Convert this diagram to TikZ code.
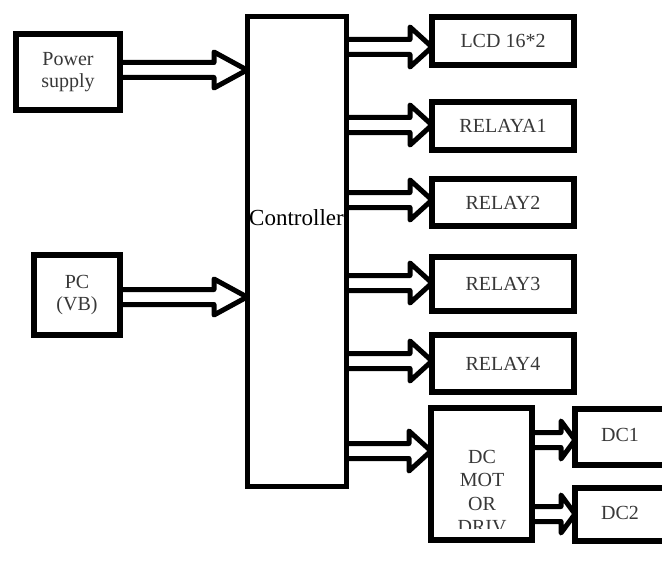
\documentclass[tikz,border=0pt]{standalone}
\usepackage{fontspec}
\setmainfont{Liberation Serif}
\usetikzlibrary{calc}
\newcommand{\blockarr}[5]{%
  \draw[arrline] let \p1=(#1.east), \p2=(#2.west), \p3=(0,#3) in
   (\x1,\y3+7.5pt) -- (\x2-#4pt,\y3+7.5pt) -- (\x2-#4pt,\y3+#5pt) -- (\x2,\y3)
   -- (\x2-#4pt,\y3-#5pt) -- (\x2-#4pt,\y3-7.5pt) -- (\x1,\y3-7.5pt);}
\begin{document}
\begin{tikzpicture}[x=1pt,y=-1pt,
  blk/.style={draw=black,line width=5.5pt,inner sep=0pt,outer sep=0pt,align=center,
    text=black!78,font=\fontsize{20}{22.5}\selectfont},
  lbl/.style={inner sep=0pt,align=center,text=black!78,font=\fontsize{20}{23.5}\selectfont},
  arrline/.style={draw=black,line width=5pt,line join=round}]
\clip (0,0) rectangle (662,578);
\fill[white] (0,0) rectangle (662,578);
% boxes
\node[blk,minimum width=104pt,minimum height=76pt] (ps) at (68,72) {Power\\supply};
\node[blk,minimum width=86pt,minimum height=80pt] (pc) at (77,295) {PC\\(VB)};
\node[blk,line width=5pt,minimum width=99pt,minimum height=469pt] (ctrl) at (296.5,251.5) {};
\node[inner sep=0pt,font=\fontsize{23}{26}\selectfont] (ctrltxt) at (296.5,218) {Controller};
\node[blk,minimum width=142pt,minimum height=48pt] (lcd) at (503,41) {LCD 16*2};
\node[blk,minimum width=142pt,minimum height=48pt] (r1) at (503,126) {RELAYA1};
\node[blk,minimum width=142pt,minimum height=47pt] (r2) at (503,202.5) {RELAY2};
\node[blk,minimum width=142pt,minimum height=54pt] (r3) at (503,284) {RELAY3};
\node[blk,minimum width=142pt,minimum height=57pt] (r4) at (503,363.5) {RELAY4};
\node[blk,minimum width=101pt,minimum height=132pt] (dcm) at (481.5,474) {};
\begin{scope}
\clip (430,400) rectangle (535,528);
\node[lbl] (dcmtxt) at (482,492) {DC\\MOT\\OR\\DRIV};
\end{scope}
\node[blk,minimum width=105pt,minimum height=56pt] (dc1) at (627.5,437) {};
\node[lbl] (dc1txt) at (620,435) {DC1};
\node[blk,minimum width=105pt,minimum height=53pt] (dc2) at (627.5,514.5) {};
\node[lbl] (dc2txt) at (620,513) {DC2};
% arrows
\blockarr{ps}{ctrl}{70}{33}{18}
\blockarr{pc}{ctrl}{297}{33}{18}
\blockarr{ctrl}{lcd}{47}{22}{20}
\blockarr{ctrl}{r1}{125}{22}{20}
\blockarr{ctrl}{r2}{200}{22}{20}
\blockarr{ctrl}{r3}{283}{22}{20}
\blockarr{ctrl}{r4}{361}{22}{20}
\blockarr{ctrl}{dcm}{451}{22}{20}
\blockarr{dcm}{dc1}{440}{14}{19}
\blockarr{dcm}{dc2}{514}{14}{19}
\end{tikzpicture}
\end{document}
